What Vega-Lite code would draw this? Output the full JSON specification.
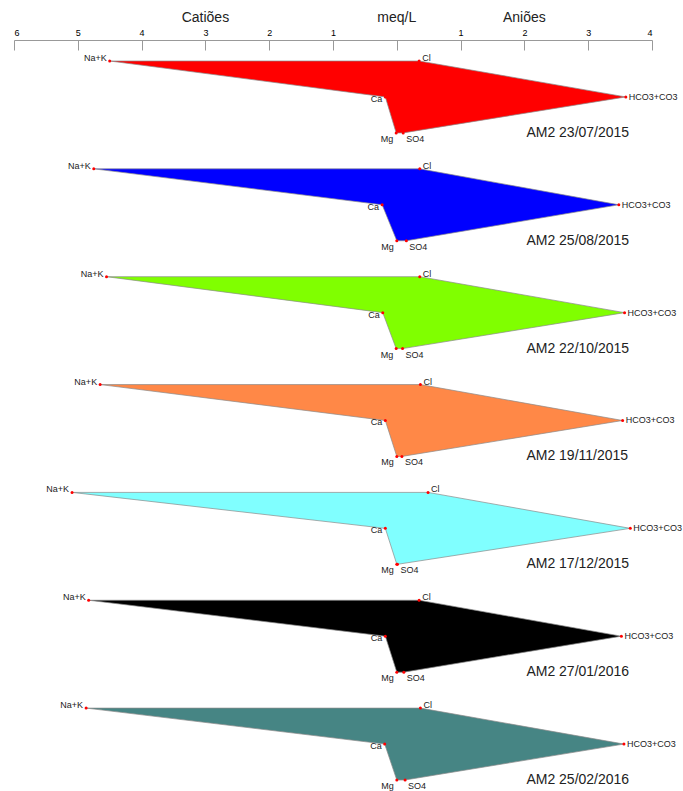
{
  "$schema": "https://vega.github.io/schema/vega-lite/v6.json",
  "autosize": "none",
  "width": 638,
  "height": 751,
  "padding": {"left": 14, "top": 40, "right": 31, "bottom": 0},
  "background": "white",
  "config": {"view": {"stroke": null}, "font": "Liberation Sans"},
  "datasets": {
    "ions": [
      {"s": "AM2 23/07/2015", "ion": "Na+K", "x": -4.50, "row": 0, "ord": 1},
      {"s": "AM2 23/07/2015", "ion": "Cl", "x": 0.35, "row": 0, "ord": 2},
      {"s": "AM2 23/07/2015", "ion": "HCO3+CO3", "x": 3.59, "row": 1, "ord": 3},
      {"s": "AM2 23/07/2015", "ion": "SO4", "x": 0.10, "row": 2, "ord": 4},
      {"s": "AM2 23/07/2015", "ion": "Mg", "x": -0.01, "row": 2, "ord": 5},
      {"s": "AM2 23/07/2015", "ion": "Ca", "x": -0.18, "row": 1, "ord": 6},
      {"s": "AM2 23/07/2015", "ion": "Na+K", "x": -4.50, "row": 0, "ord": 7},

      {"s": "AM2 25/08/2015", "ion": "Na+K", "x": -4.75, "row": 3, "ord": 1},
      {"s": "AM2 25/08/2015", "ion": "Cl", "x": 0.36, "row": 3, "ord": 2},
      {"s": "AM2 25/08/2015", "ion": "HCO3+CO3", "x": 3.48, "row": 4, "ord": 3},
      {"s": "AM2 25/08/2015", "ion": "SO4", "x": 0.15, "row": 5, "ord": 4},
      {"s": "AM2 25/08/2015", "ion": "Mg", "x": 0.0, "row": 5, "ord": 5},
      {"s": "AM2 25/08/2015", "ion": "Ca", "x": -0.23, "row": 4, "ord": 6},
      {"s": "AM2 25/08/2015", "ion": "Na+K", "x": -4.75, "row": 3, "ord": 7},

      {"s": "AM2 22/10/2015", "ion": "Na+K", "x": -4.55, "row": 6, "ord": 1},
      {"s": "AM2 22/10/2015", "ion": "Cl", "x": 0.36, "row": 6, "ord": 2},
      {"s": "AM2 22/10/2015", "ion": "HCO3+CO3", "x": 3.57, "row": 7, "ord": 3},
      {"s": "AM2 22/10/2015", "ion": "SO4", "x": 0.09, "row": 8, "ord": 4},
      {"s": "AM2 22/10/2015", "ion": "Mg", "x": -0.01, "row": 8, "ord": 5},
      {"s": "AM2 22/10/2015", "ion": "Ca", "x": -0.22, "row": 7, "ord": 6},
      {"s": "AM2 22/10/2015", "ion": "Na+K", "x": -4.55, "row": 6, "ord": 7},

      {"s": "AM2 19/11/2015", "ion": "Na+K", "x": -4.65, "row": 9, "ord": 1},
      {"s": "AM2 19/11/2015", "ion": "Cl", "x": 0.37, "row": 9, "ord": 2},
      {"s": "AM2 19/11/2015", "ion": "HCO3+CO3", "x": 3.54, "row": 10, "ord": 3},
      {"s": "AM2 19/11/2015", "ion": "SO4", "x": 0.08, "row": 11, "ord": 4},
      {"s": "AM2 19/11/2015", "ion": "Mg", "x": 0.0, "row": 11, "ord": 5},
      {"s": "AM2 19/11/2015", "ion": "Ca", "x": -0.18, "row": 10, "ord": 6},
      {"s": "AM2 19/11/2015", "ion": "Na+K", "x": -4.65, "row": 9, "ord": 7},

      {"s": "AM2 17/12/2015", "ion": "Na+K", "x": -5.09, "row": 12, "ord": 1},
      {"s": "AM2 17/12/2015", "ion": "Cl", "x": 0.49, "row": 12, "ord": 2},
      {"s": "AM2 17/12/2015", "ion": "HCO3+CO3", "x": 3.66, "row": 13, "ord": 3},
      {"s": "AM2 17/12/2015", "ion": "SO4", "x": 0.01, "row": 14, "ord": 4},
      {"s": "AM2 17/12/2015", "ion": "Mg", "x": 0.0, "row": 14, "ord": 5},
      {"s": "AM2 17/12/2015", "ion": "Ca", "x": -0.18, "row": 13, "ord": 6},
      {"s": "AM2 17/12/2015", "ion": "Na+K", "x": -5.09, "row": 12, "ord": 7},

      {"s": "AM2 27/01/2016", "ion": "Na+K", "x": -4.83, "row": 15, "ord": 1},
      {"s": "AM2 27/01/2016", "ion": "Cl", "x": 0.35, "row": 15, "ord": 2},
      {"s": "AM2 27/01/2016", "ion": "HCO3+CO3", "x": 3.52, "row": 16, "ord": 3},
      {"s": "AM2 27/01/2016", "ion": "SO4", "x": 0.11, "row": 17, "ord": 4},
      {"s": "AM2 27/01/2016", "ion": "Mg", "x": 0.0, "row": 17, "ord": 5},
      {"s": "AM2 27/01/2016", "ion": "Ca", "x": -0.18, "row": 16, "ord": 6},
      {"s": "AM2 27/01/2016", "ion": "Na+K", "x": -4.83, "row": 15, "ord": 7},

      {"s": "AM2 25/02/2016", "ion": "Na+K", "x": -4.87, "row": 18, "ord": 1},
      {"s": "AM2 25/02/2016", "ion": "Cl", "x": 0.37, "row": 18, "ord": 2},
      {"s": "AM2 25/02/2016", "ion": "HCO3+CO3", "x": 3.56, "row": 19, "ord": 3},
      {"s": "AM2 25/02/2016", "ion": "SO4", "x": 0.13, "row": 20, "ord": 4},
      {"s": "AM2 25/02/2016", "ion": "Mg", "x": 0.0, "row": 20, "ord": 5},
      {"s": "AM2 25/02/2016", "ion": "Ca", "x": -0.19, "row": 19, "ord": 6},
      {"s": "AM2 25/02/2016", "ion": "Na+K", "x": -4.87, "row": 18, "ord": 7}
    ],
    "headers": [
      {"h": "Catiões", "x": -3},
      {"h": "meq/L", "x": 0},
      {"h": "Aniões", "x": 2}
    ]
  },
  "layer": [
    {
      "mark": {"type": "rule", "color": "#dddddd", "strokeWidth": 1},
      "encoding": {
        "x": {
          "datum": 0,
          "type": "quantitative",
          "scale": {"domain": [-6, 4], "nice": false, "zero": false},
          "axis": {
            "orient": "top",
            "title": null,
            "values": [-6, -5, -4, -3, -2, -1, 0, 1, 2, 3, 4],
            "labelExpr": "datum.value == 0 ? '' : abs(datum.value)",
            "grid": false,
            "domainColor": "#999999",
            "tickColor": "#999999",
            "tickSize": -10,
            "labelPadding": 13,
            "labelFontSize": 9,
            "labelColor": "#000000",
            "labelFont": "Liberation Sans"
          }
        }
      }
    },
    {
      "data": {"name": "ions"},
      "mark": {"type": "line", "stroke": "#8a8a8a", "strokeWidth": 0.7, "interpolate": "linear"},
      "encoding": {
        "x": {"field": "x", "type": "quantitative"},
        "y": {
          "field": "row",
          "type": "quantitative",
          "scale": {"domain": [-0.584, 20.306], "reverse": true, "nice": false, "zero": false},
          "axis": null
        },
        "order": {"field": "ord", "type": "quantitative"},
        "detail": {"field": "s"},
        "fill": {
          "field": "s",
          "type": "nominal",
          "legend": null,
          "scale": {
            "domain": ["AM2 23/07/2015", "AM2 25/08/2015", "AM2 22/10/2015", "AM2 19/11/2015", "AM2 17/12/2015", "AM2 27/01/2016", "AM2 25/02/2016"],
            "range": ["#ff0000", "#0000ff", "#80ff00", "#ff8847", "#80ffff", "#000000", "#468584"]
          }
        }
      }
    },
    {
      "data": {"name": "ions"},
      "transform": [{"filter": "datum.ord < 7"}],
      "mark": {"type": "circle", "color": "#ff0000", "size": 9, "opacity": 1},
      "encoding": {
        "x": {"field": "x", "type": "quantitative"},
        "y": {"field": "row", "type": "quantitative"}
      }
    },
    {
      "data": {"name": "ions"},
      "transform": [{"filter": "datum.ord == 1"}],
      "mark": {"type": "text", "align": "right", "baseline": "middle", "dx": -3, "dy": -3, "fontSize": 9, "color": "#222222"},
      "encoding": {
        "x": {"field": "x", "type": "quantitative"},
        "y": {"field": "row", "type": "quantitative"},
        "text": {"field": "ion"}
      }
    },
    {
      "data": {"name": "ions"},
      "transform": [{"filter": "datum.ion == 'Cl'"}],
      "mark": {"type": "text", "align": "left", "baseline": "middle", "dx": 3, "dy": -3, "fontSize": 9, "color": "#222222"},
      "encoding": {
        "x": {"field": "x", "type": "quantitative"},
        "y": {"field": "row", "type": "quantitative"},
        "text": {"field": "ion"}
      }
    },
    {
      "data": {"name": "ions"},
      "transform": [{"filter": "datum.ion == 'Ca'"}],
      "mark": {"type": "text", "align": "right", "baseline": "middle", "dx": -3, "dy": 2, "fontSize": 9, "color": "#222222"},
      "encoding": {
        "x": {"field": "x", "type": "quantitative"},
        "y": {"field": "row", "type": "quantitative"},
        "text": {"field": "ion"}
      }
    },
    {
      "data": {"name": "ions"},
      "transform": [{"filter": "datum.ion == 'HCO3+CO3'"}],
      "mark": {"type": "text", "align": "left", "baseline": "middle", "dx": 3, "dy": 0, "fontSize": 9, "color": "#222222"},
      "encoding": {
        "x": {"field": "x", "type": "quantitative"},
        "y": {"field": "row", "type": "quantitative"},
        "text": {"field": "ion"}
      }
    },
    {
      "data": {"name": "ions"},
      "transform": [{"filter": "datum.ion == 'Mg'"}],
      "mark": {"type": "text", "align": "right", "baseline": "middle", "dx": -3, "dy": 6, "fontSize": 9, "color": "#222222"},
      "encoding": {
        "x": {"field": "x", "type": "quantitative"},
        "y": {"field": "row", "type": "quantitative"},
        "text": {"field": "ion"}
      }
    },
    {
      "data": {"name": "ions"},
      "transform": [{"filter": "datum.ion == 'SO4'"}],
      "mark": {"type": "text", "align": "left", "baseline": "middle", "dx": 3, "dy": 6, "fontSize": 9, "color": "#222222"},
      "encoding": {
        "x": {"field": "x", "type": "quantitative"},
        "y": {"field": "row", "type": "quantitative"},
        "text": {"field": "ion"}
      }
    },
    {
      "data": {"name": "ions"},
      "transform": [{"filter": "datum.ion == 'Mg'"}],
      "mark": {"type": "text", "align": "left", "baseline": "middle", "dx": 2, "fontSize": 14, "color": "#222222"},
      "encoding": {
        "x": {"datum": 2, "type": "quantitative"},
        "y": {"field": "row", "type": "quantitative"},
        "text": {"field": "s"}
      }
    },
    {
      "data": {"name": "headers"},
      "mark": {"type": "text", "align": "center", "baseline": "middle", "fontSize": 14, "color": "#222222"},
      "encoding": {
        "x": {"field": "x", "type": "quantitative"},
        "y": {"datum": -1.2, "type": "quantitative"},
        "text": {"field": "h"}
      }
    }
  ]
}
